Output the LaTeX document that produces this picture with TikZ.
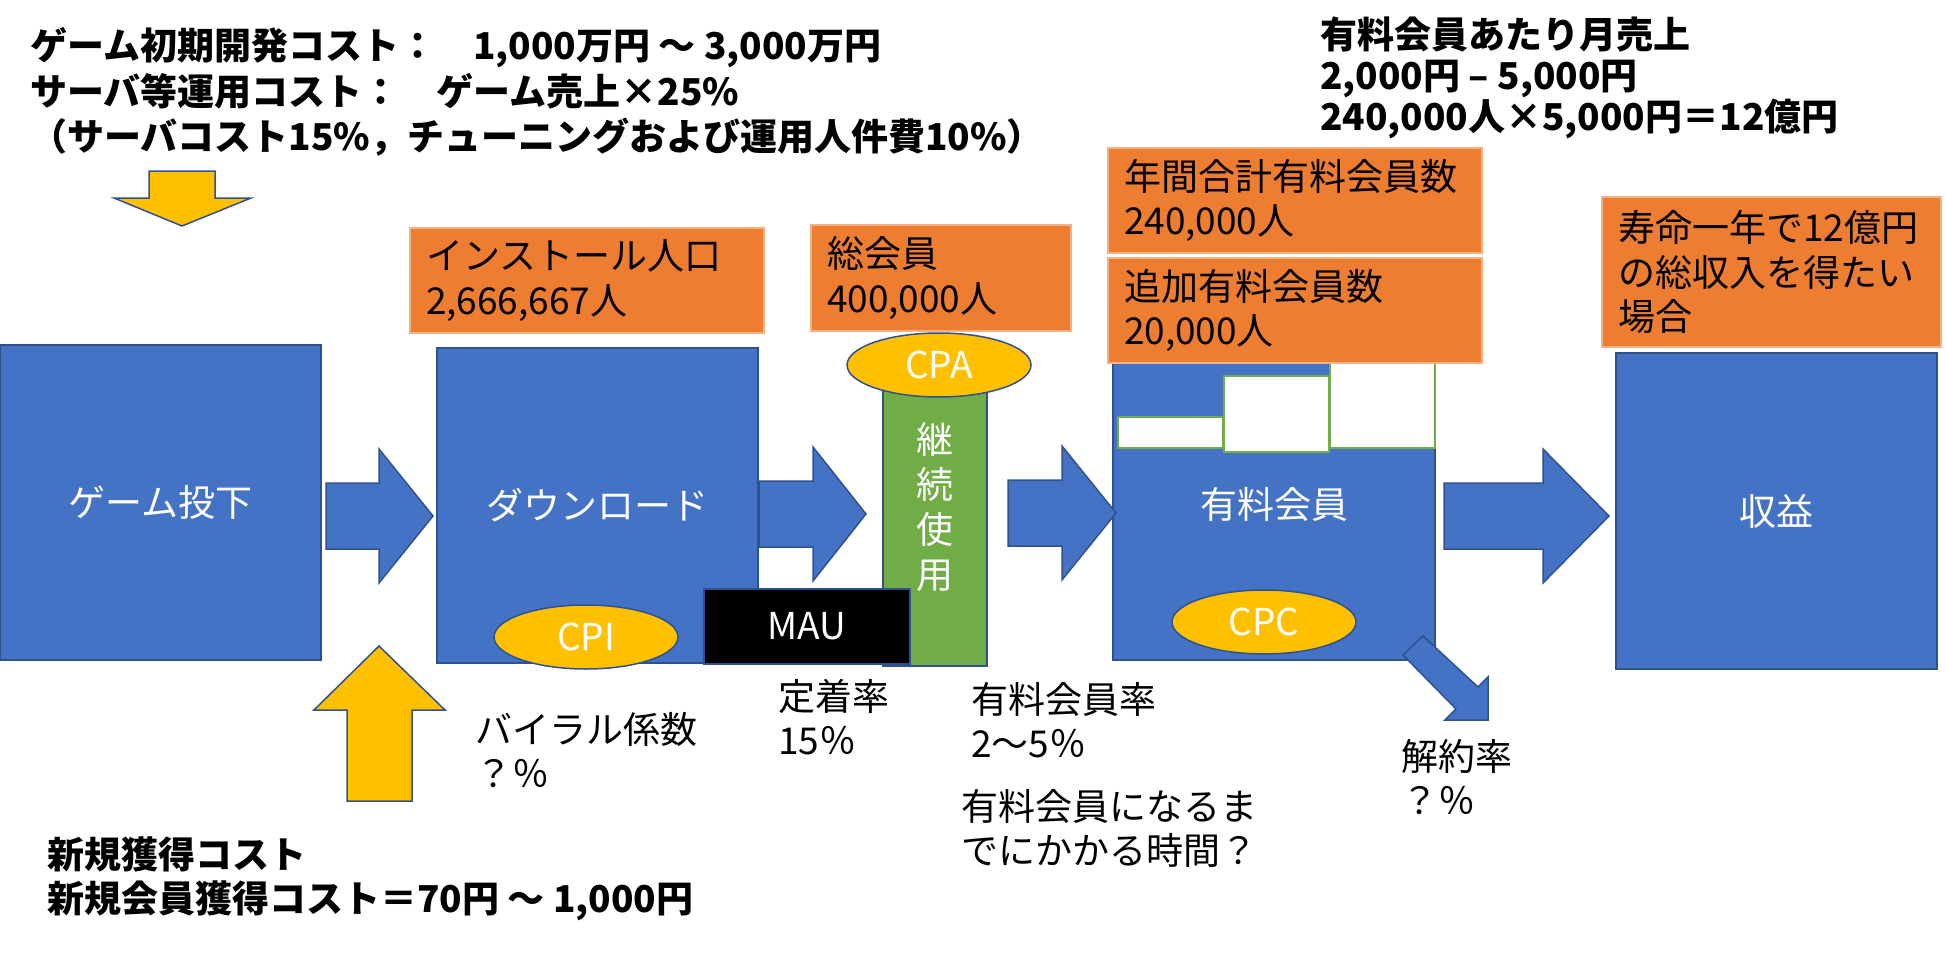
\documentclass[tikz,border=0pt]{standalone}
\usepackage{fontspec}
\setmainfont{Noto Sans CJK JP}
\usetikzlibrary{shapes.geometric}

\definecolor{boxblue}{HTML}{4472C4}
\definecolor{edgeblue}{HTML}{2F528F}
\definecolor{noteorange}{HTML}{ED7D31}
\definecolor{orangeedge}{HTML}{F4B183}
\definecolor{costyellow}{HTML}{FFC000}
\definecolor{usegreen}{HTML}{70AD47}

\newcommand{\flowarrow}[4]{%
  \draw[blockarrow] (#1,{#3-33}) -- ({#2-#4},{#3-33}) -- ({#2-#4},{#3-67})
    -- (#2,#3) -- ({#2-#4},{#3+67}) -- ({#2-#4},{#3+33}) -- (#1,{#3+33}) -- cycle;}

\tikzset{
  stage/.style={draw=edgeblue, line width=2pt, fill=boxblue, text=white,
    inner sep=0pt, font=\fontsize{37}{45}\selectfont},
  note/.style={draw=orangeedge, line width=1.5pt, fill=noteorange, align=left,
    inner sep=0pt, inner xsep=16pt, font=\fontsize{37}{44.5}\selectfont},
  cost/.style={ellipse, draw=edgeblue, line width=1.5pt, fill=costyellow,
    text=white, inner sep=0pt, minimum width=184pt, minimum height=64pt,
    font=\fontsize{37}{45}\selectfont},
  slot/.style={draw=usegreen, line width=2.5pt, fill=white, inner sep=0pt},
  headline/.style={anchor=west, align=left, inner sep=0pt,
    font=\bfseries\fontsize{37}{45.5}\selectfont},
  remark/.style={anchor=west, align=left, inner sep=0pt,
    font=\fontsize{37}{44}\selectfont},
  blockarrow/.style={draw=edgeblue, line width=1.5pt, fill=boxblue},
  costarrow/.style={draw=edgeblue, line width=1.5pt, fill=costyellow},
}

\begin{document}
\begin{tikzpicture}[x=1pt, y=-1pt]
  \useasboundingbox (0,0) rectangle (1946,979);

  % stages
  \node[stage, minimum width=321pt, minimum height=315pt] (GL) at (160.5,502.5) {ゲーム投下};
  \node[stage, minimum width=321pt, minimum height=315pt] (DL) at (597.5,505.5) {ダウンロード};
  \node[stage, minimum width=322pt, minimum height=312pt] (PM) at (1274,504) {有料会員};
  \node[stage, minimum width=321pt, minimum height=316pt] (RV) at (1776.5,511) {収益};

  \node[slot, minimum width=105pt, minimum height=31pt] (S1) at (1170.5,432.5) {};
  \node[slot, minimum width=105pt, minimum height=76pt] (S2) at (1276.5,414) {};
  \node[slot, minimum width=105pt, minimum height=98pt] (S3) at (1382.5,399) {};

  % orange notes
  \node[note, text width=322pt, minimum height=105pt] (IP) at (587,280.5) {インストール人口\\2,666,667人};
  \node[note, text width=228pt, minimum height=106pt] (TM) at (941,278) {総会員\\400,000人};
  \node[note, text width=342pt, minimum height=105pt] (AP) at (1295,200.5) {年間合計有料会員数\\240,000人};
  \node[note, text width=342pt, minimum height=105pt] (NP) at (1295,310.5) {追加有料会員数\\20,000人};
  \node[note, text width=307pt, minimum height=150pt] (GO) at (1771.5,272) {寿命一年で12億円\\の総収入を得たい\\場合};

  % continued use
  \node[draw=edgeblue, line width=2pt, fill=usegreen, inner sep=0pt,
    minimum width=104pt, minimum height=294pt] (KU) at (935,519) {};
  \node[text=white, align=center, inner sep=0pt,
    font=\fontsize{37}{45}\selectfont] (KZ) at (935,507) {継\\続\\使\\用};

  \node[cost] (CPA) at (939,365) {CPA};
  \node[cost] (CPI) at (586,637) {CPI};
  \node[cost] (CPC) at (1264,622) {CPC};

  \node[draw=edgeblue, line width=2pt, fill=black, text=white, inner sep=0pt,
    minimum width=206pt, minimum height=75pt,
    font=\fontsize{37}{45}\selectfont] (MAU) at (807,626.5) {MAU};

  % block arrows
  \flowarrow{326}{433}{516}{54}
  \flowarrow{759}{866}{514}{53}
  \flowarrow{1008}{1116}{513}{54}
  \flowarrow{1444}{1609}{516}{66}
  \draw[blockarrow] (1403,655) -- (1423,636) -- (1478,687) -- (1488,677)
    -- (1488,720) -- (1445,720) -- (1456,709) -- cycle;
  \draw[costarrow] (149,171) -- (215,171) -- (215,198) -- (251,198)
    -- (182,226) -- (114,198) -- (149,198) -- cycle;
  \draw[costarrow] (379,646) -- (445,710) -- (412,710) -- (412,801)
    -- (347,801) -- (347,710) -- (314,710) -- cycle;

  % texts
  \node[headline] (DC) at (30,92) {ゲーム初期開発コスト：　1,000万円 〜 3,000万円\\サーバ等運用コスト：　ゲーム売上×25\%\\（サーバコスト15\%，チューニングおよび運用人件費10\%）};
  \node[headline, font=\bfseries\fontsize{37}{41}\selectfont] (MS) at (1320,78) {有料会員あたり月売上\\2,000円 – 5,000円\\240,000人×5,000円＝12億円};
  \node[headline, font=\bfseries\fontsize{37}{44}\selectfont] (AC) at (47,879) {新規獲得コスト\\新規会員獲得コスト＝70円 〜 1,000円};

  \node[remark] (VR) at (475,750) {バイラル係数\\？％};
  \node[remark] (RR) at (778,717.5) {定着率\\15％};
  \node[remark] (PR) at (971,720) {有料会員率\\2〜5％};
  \node[remark] (PT) at (961,828) {有料会員になるま\\でにかかる時間？};
  \node[remark] (CR) at (1401,777) {解約率\\？％};
\end{tikzpicture}
\end{document}
